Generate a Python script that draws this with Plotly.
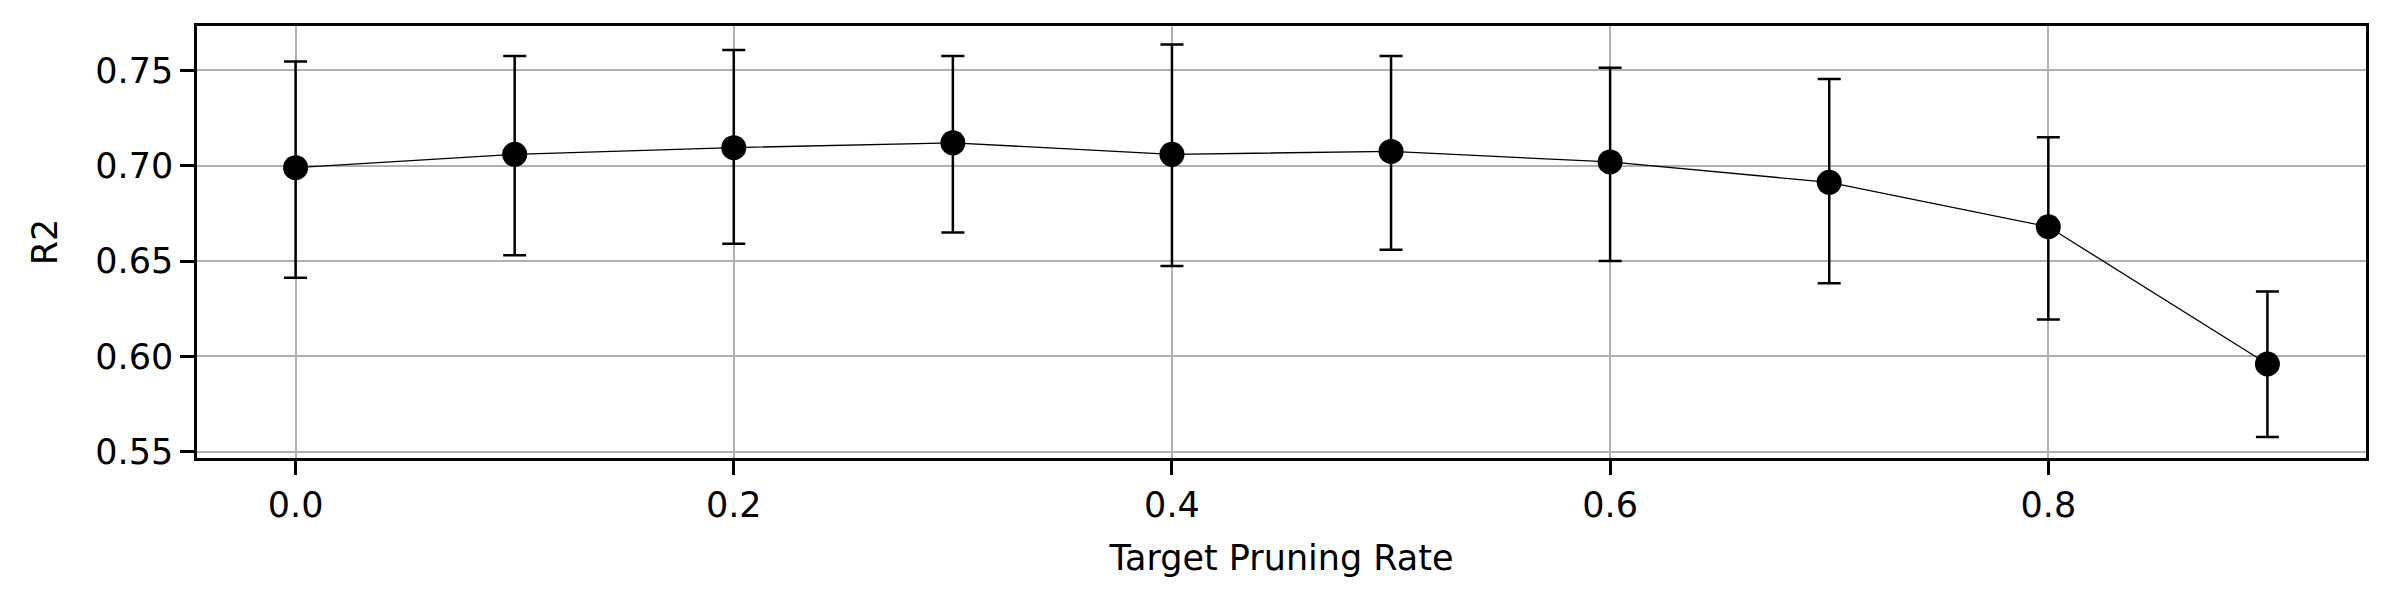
import numpy as np
import plotly.graph_objects as go

# target pruning rate vs mean R2 with upper / lower error bounds
pruning_rate = [0.0, 0.1, 0.2, 0.3, 0.4, 0.5, 0.6, 0.7, 0.8, 0.9]
r2_mean = [0.699, 0.706, 0.7095, 0.712, 0.706, 0.7075, 0.702, 0.6913, 0.668, 0.596]
r2_upper = [0.7547, 0.7575, 0.7607, 0.7575, 0.7636, 0.7575, 0.7514, 0.7455, 0.715, 0.634]
r2_lower = [0.6413, 0.653, 0.6591, 0.665, 0.6474, 0.6559, 0.650, 0.6383, 0.6194, 0.5577]
y_ticks = [0.55, 0.60, 0.65, 0.70, 0.75]

mean = np.array(r2_mean)
err_plus = np.array(r2_upper) - mean
err_minus = mean - np.array(r2_lower)

font = dict(family="DejaVu Sans", size=35, color="black")

fig = go.Figure(
    go.Scatter(
        x=pruning_rate,
        y=r2_mean,
        mode="lines+markers",
        line=dict(color="black", width=1.3),
        marker=dict(color="black", size=25),
        error_y=dict(
            type="data",
            symmetric=False,
            array=err_plus,
            arrayminus=err_minus,
            color="black",
            thickness=2.5,
            width=11.5,
        ),
        showlegend=False,
    )
)

axis_style = dict(
    showline=True,
    mirror=True,
    linecolor="black",
    linewidth=2.5,
    ticks="outside",
    ticklen=14,
    tickwidth=2.5,
    tickcolor="black",
    showgrid=True,
    gridcolor="#b0b0b0",
    gridwidth=2,
    zeroline=False,
    automargin=False,
    tickfont=font,
)

fig.update_xaxes(
    range=[-0.045, 0.945],
    tickvals=[0.0, 0.2, 0.4, 0.6, 0.8],
    tickformat=".1f",
    title=dict(text="Target Pruning Rate", font=font, standoff=22),
    **axis_style,
)
fig.update_yaxes(
    range=[0.5467, 0.7733],
    tickvals=y_ticks,
    tickformat=".2f",
    title=dict(text="R2", font=font, standoff=28),
    **axis_style,
)

# page body adds an 8px offset, so margins are shifted to compensate
fig.update_layout(
    width=2392,
    height=605,
    margin=dict(l=189, r=34, t=18, b=155),
    plot_bgcolor="white",
    paper_bgcolor="white",
    font=font,
)

fig.write_html("out.html")
